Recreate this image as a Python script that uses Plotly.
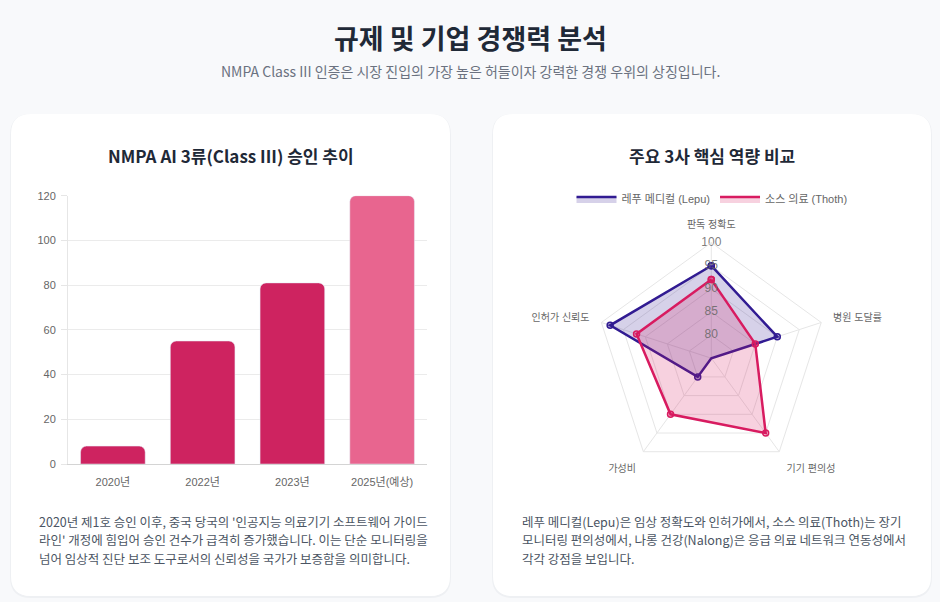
import plotly.graph_objects as go

# ---- data ----
years = ["2020년", "2022년", "2023년", "2025년(예상)"]
approvals = [8, 55, 81, 120]

axes_labels = ["판독 정확도", "병원 도달률", "기기 편의성", "가성비", "인허가 신뢰도"]
lepu_scores = [95, 90, 75, 80, 98]
thoth_scores = [92, 85, 95, 90, 92]
radial_ticks = [80, 85, 90, 95, 100]

left_text = [
    "2020년 제1호 승인 이후, 중국 당국의 '인공지능 의료기기 소프트웨어 가이드",
    "라인' 개정에 힘입어 승인 건수가 급격히 증가했습니다. 이는 단순 모니터링을",
    "넘어 임상적 진단 보조 도구로서의 신뢰성을 국가가 보증함을 의미합니다.",
]
right_text = [
    "레푸 메디컬(Lepu)은 임상 정확도와 인허가에서, 소스 의료(Thoth)는 장기",
    "모니터링 편의성에서, 나롱 건강(Nalong)은 응급 의료 네트워크 연동성에서",
    "각각 강점을 보입니다.",
]

W, H = 940, 602
KR = "Noto Sans CJK KR"
CHART = "Liberation Sans, Noto Sans CJK KR"


def px_x(x):
    return x / W


def px_y(y):
    return 1 - y / H


def card_path(x0, y0, x1, y1, r):
    # rounded rectangle in paper coords, corners with quadratic curves
    ax, ay = r / W, r / H
    X0, X1 = px_x(x0), px_x(x1)
    Y0, Y1 = px_y(y0), px_y(y1)  # Y0 top, Y1 bottom
    return (f"M {X0+ax},{Y0} L {X1-ax},{Y0} Q {X1},{Y0} {X1},{Y0-ay} "
            f"L {X1},{Y1+ay} Q {X1},{Y1} {X1-ax},{Y1} "
            f"L {X0+ax},{Y1} Q {X0},{Y1} {X0},{Y1+ay} "
            f"L {X0},{Y0-ay} Q {X0},{Y0} {X0+ax},{Y0} Z")


fig = go.Figure()

# bar chart
bar_colors = ["#CE2360", "#CE2360", "#CE2360", "#E8658F"]
fig.add_trace(go.Bar(x=years, y=approvals, marker=dict(color=bar_colors, cornerradius=6),
                     showlegend=False, hoverinfo="x+y"))

# radar
series = [
    ("레푸 메디컬 (Lepu)", lepu_scores, "#311B92", "rgba(49,27,146,0.2)", "rgba(49,27,146,0.35)"),
    ("소스 의료 (Thoth)", thoth_scores, "#D81B60", "rgba(216,27,96,0.2)", "rgba(216,27,96,0.35)"),
]
theta_closed = axes_labels + [axes_labels[0]]
for name, vals, col, fillcol, markcol in series:
    fig.add_trace(go.Scatterpolar(
        r=vals + [vals[0]], theta=theta_closed, name=name, legendgroup=name, showlegend=False,
        mode="lines+markers", fill="toself", fillcolor=fillcol,
        line=dict(color=col, width=2.5),
        marker=dict(size=6, color=markcol, line=dict(color=col, width=1.5)),
    ))
    # legend entry only (box look)
    fig.add_trace(go.Scatterpolar(
        r=[None], theta=[axes_labels[0]], name=name, legendgroup=name,
        mode="lines", fill="toself", fillcolor=fillcol, line=dict(color=col, width=2.5),
        hoverinfo="skip",
    ))

# radial tick labels drawn on the top spoke
fig.add_trace(go.Scatterpolar(
    r=radial_ticks, theta=[axes_labels[0]] * len(radial_ticks), mode="text",
    text=[str(v) for v in radial_ticks], textfont=dict(family=CHART, size=12, color="rgba(102,102,102,0.85)"),
    showlegend=False, hoverinfo="skip",
))

# cards
shapes = []
for x0, x1 in [(11, 450), (493, 931)]:
    shapes.append(dict(type="path", path=card_path(x0, 115, x1, 597, 20), xref="paper", yref="paper",
                       fillcolor="rgba(0,0,0,0)", line=dict(color="#EEF0F3", width=2), layer="below"))
    shapes.append(dict(type="path", path=card_path(x0, 114, x1, 596, 20), xref="paper", yref="paper",
                       fillcolor="white", line=dict(width=0), layer="below"))

annotations = [
    dict(text="<b>규제 및 기업 경쟁력 분석</b>", x=0.5, y=px_y(38), font=dict(family=KR, size=27, color="#1F2937")),
    dict(text="NMPA Class III 인증은 시장 진입의 가장 높은 허들이자 강력한 경쟁 우위의 상징입니다.",
         x=0.5, y=px_y(71), font=dict(family=KR, size=14, color="#6B7280")),
    dict(text="<b>NMPA AI 3류(Class III) 승인 추이</b>", x=px_x(231), y=px_y(155),
         font=dict(family=KR, size=17, color="#1F2937")),
    dict(text="<b>주요 3사 핵심 역량 비교</b>", x=px_x(712), y=px_y(155),
         font=dict(family=KR, size=17, color="#1F2937")),
]
for i, line in enumerate(left_text):
    annotations.append(dict(text=line, x=px_x(37), y=px_y(521 + i * 18.5), xanchor="left",
                            font=dict(family=KR, size=12.5, color="#4B5563")))
for i, line in enumerate(right_text):
    annotations.append(dict(text=line, x=px_x(520), y=px_y(521 + i * 18.5), xanchor="left",
                            font=dict(family=KR, size=12.5, color="#4B5563")))
for a in annotations:
    a.update(xref="paper", yref="paper", showarrow=False, yanchor="middle", xanchor=a.get("xanchor", "center"))

cx, cy, R = 711.3, 358.2, 115.6

fig.update_layout(
    width=W, height=H, autosize=False,
    margin=dict(l=0, r=0, t=0, b=0, autoexpand=False),
    paper_bgcolor="#F8F9FB", plot_bgcolor="rgba(0,0,0,0)",
    font=dict(family=CHART, color="#666666"),
    shapes=shapes, annotations=annotations,
    bargap=0.28,
    xaxis=dict(domain=[px_x(68), px_x(427)], showgrid=False, showline=True, linecolor="#D4D4D4",
               ticks="", tickfont=dict(size=11, color="#666666"), ticklabelstandoff=8, fixedrange=True,
               automargin=False),
    yaxis=dict(domain=[px_y(464), px_y(195.7)], range=[0, 120], dtick=20, showgrid=True,
               gridcolor="#EBEBEB", showline=True, linecolor="#E6E6E6", zeroline=False,
               ticks="outside", ticklen=6, tickcolor="#E6E6E6", tickfont=dict(size=11, color="#666666"),
               ticklabelstandoff=3, fixedrange=True, automargin=False),
    polar=dict(
        domain=dict(x=[px_x(cx - R), px_x(cx + R)], y=[px_y(cy + R), px_y(cy - R)]),
        bgcolor="rgba(0,0,0,0)", gridshape="linear",
        radialaxis=dict(range=[75, 100], tickvals=radial_ticks[:-1], showticklabels=False,
                        showline=False, ticks="", gridcolor="#E6E6E6", gridwidth=1),
        angularaxis=dict(rotation=90, direction="clockwise", showline=True, linecolor="#E6E6E6",
                         gridcolor="#E6E6E6", ticks="outside", ticklen=10, tickcolor="rgba(0,0,0,0)",
                         tickfont=dict(size=10, color="#666666")),
    ),
    legend=dict(orientation="h", x=px_x(712), y=px_y(199), xanchor="center", yanchor="middle",
                font=dict(size=11, color="#666666"), bgcolor="rgba(0,0,0,0)", itemwidth=40),
)

page_fix = ("document.documentElement.style.margin='0';document.body.style.margin='0';"
            "document.documentElement.style.overflow='hidden';document.body.style.overflow='hidden';"
            "document.documentElement.style.background='#F8F9FB';")
fig.write_html("out.html", config={"displayModeBar": False}, post_script=page_fix)
